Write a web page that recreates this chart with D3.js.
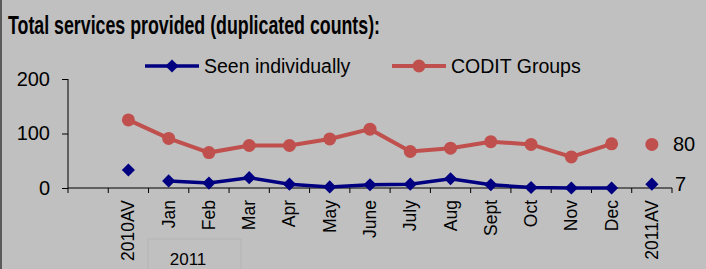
<!DOCTYPE html>
<html><head><meta charset="utf-8">
<script src="https://cdn.jsdelivr.net/npm/d3@7"></script>
<style>body{margin:0;background:#c0c0c0;}svg{display:block;font-family:"Liberation Sans",Arial,sans-serif;}</style>
</head><body>
<svg id="c" width="706" height="269"></svg>
<script>
const categories = ["", "2010AV", "Jan", "Feb", "Mar", "Apr", "May", "June", "July", "Aug", "Sept", "Oct", "Nov", "Dec", "2011AV"];
const months = ["Jan", "Feb", "Mar", "Apr", "May", "June", "July", "Aug", "Sept", "Oct", "Nov", "Dec"];
const seenMonthly = [13, 9, 19, 7, 2, 6, 7, 17, 6, 1, 0, 0];
const coditMonthly = [91, 65, 78, 78, 90, 108, 67, 73, 85, 80, 57, 81];
const seenAvg2010 = 33, coditAvg2010 = 125;
const seenAvg2011 = 7, coditAvg2011 = 80;
const yTicks = [0, 100, 200];
const seriesNames = ["Seen individually", "CODIT Groups"];
const groupLabel = "2011";
const title = "Total services provided (duplicated counts):";

const svg = d3.select("#c");
const blue = "#000080", red = "#c0504d";
svg.append("rect").attr("x",0).attr("y",0).attr("width",706).attr("height",269).attr("fill","#c0c0c0");
svg.append("rect").attr("x",0).attr("y",0).attr("width",2).attr("height",269).attr("fill","#5a5a5a");

svg.append("text").attr("x",8).attr("y",34).attr("font-size",25).attr("font-weight","bold")
  .attr("textLength",372).attr("lengthAdjust","spacingAndGlyphs").text(title);

const x = d3.scaleBand().domain(categories).range([68,672]);
const cx = c => x(c) + x.bandwidth()/2;
const y = d3.scaleLinear().domain([0,200]).range([188,79]);

// y axis
const ya = svg.append("g").attr("transform","translate(68,0)")
  .call(d3.axisLeft(y).tickValues(yTicks).tickSize(6).tickPadding(12));
ya.select(".domain").attr("stroke","#000").attr("d","M0,79V188");
ya.selectAll(".tick line").attr("stroke","#000");
ya.selectAll("text").attr("font-size",20).attr("fill","#000").attr("font-family","Liberation Sans, Arial, sans-serif");

// x axis
const xa = svg.append("g").attr("transform","translate(0,188)")
  .call(d3.axisBottom(x).tickSize(0).tickPadding(0));
xa.select(".domain").attr("stroke","#000").attr("d","M68,0H672");
xa.selectAll(".tick text")
  .attr("font-size",17.5).attr("fill","#000").attr("font-family","Liberation Sans, Arial, sans-serif")
  .attr("text-anchor","end").attr("dy",0).attr("y",0)
  .attr("transform","translate(6,12) rotate(-90)");
const bounds = categories.map(c => x(c)).concat([x.range()[1]]);
svg.append("g").selectAll("line").data(bounds).join("line")
  .attr("x1",d=>d).attr("x2",d=>d).attr("y1",188).attr("y2",193).attr("stroke","#000");

// group box
svg.append("rect").attr("x",148).attr("y",239).attr("width",93).attr("height",40)
  .attr("fill","none").attr("stroke","#b4b4b4");
svg.append("text").attr("x",188).attr("y",265).attr("text-anchor","middle").attr("font-size",17).text(groupLabel);

// lines
const line = d3.line().x(d=>cx(d[0])).y(d=>y(d[1]));
const redPts = [["2010AV",coditAvg2010]].concat(months.map((m,i)=>[m,coditMonthly[i]]));
const bluePts = months.map((m,i)=>[m,seenMonthly[i]]);
svg.append("path").attr("d",line(redPts)).attr("fill","none").attr("stroke",red).attr("stroke-width",4);
svg.append("path").attr("d",line(bluePts)).attr("fill","none").attr("stroke",blue).attr("stroke-width",3.5);

const redAll = redPts.concat([["2011AV",coditAvg2011]]);
svg.append("g").selectAll("circle").data(redAll).join("circle")
  .attr("cx",d=>cx(d[0])).attr("cy",d=>y(d[1])).attr("r",6.5).attr("fill",red);
const blueAll = [["2010AV",seenAvg2010]].concat(bluePts).concat([["2011AV",seenAvg2011]]);
const diamond = d3.symbol().type(d3.symbolDiamond2).size(110);
svg.append("g").selectAll("path").data(blueAll).join("path")
  .attr("d",diamond).attr("transform",d=>`translate(${cx(d[0])},${y(d[1])})`).attr("fill",blue);

// end labels
svg.append("text").attr("x",673).attr("y",y(coditAvg2011)+7).attr("font-size",20).text(coditAvg2011);
svg.append("text").attr("x",675).attr("y",y(seenAvg2011)+7).attr("font-size",20).text(seenAvg2011);

// legend
const lg = svg.append("g");
lg.append("line").attr("x1",145).attr("x2",199).attr("y1",66).attr("y2",66).attr("stroke",blue).attr("stroke-width",3.5);
lg.append("path").attr("d",diamond).attr("transform","translate(172,66)").attr("fill",blue);
lg.append("text").attr("x",204).attr("y",73).attr("font-size",19.5).text(seriesNames[0]);
lg.append("line").attr("x1",392).attr("x2",446).attr("y1",66).attr("y2",66).attr("stroke",red).attr("stroke-width",4);
lg.append("circle").attr("cx",419).attr("cy",66).attr("r",6.5).attr("fill",red);
lg.append("text").attr("x",451).attr("y",73).attr("font-size",19.5).text(seriesNames[1]);
</script>
</body></html>
